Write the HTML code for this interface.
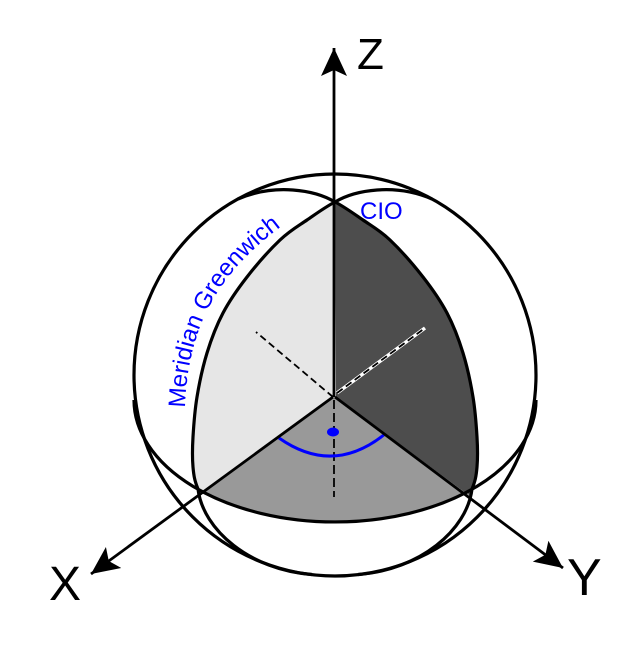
<!DOCTYPE html>
<html><head><meta charset="utf-8"><style>
html,body{margin:0;padding:0;background:#fff;}
svg{display:block;}
</style></head><body>
<svg width="635" height="654" viewBox="0 0 635 654" xmlns="http://www.w3.org/2000/svg">
<defs>
<marker id="ah" viewBox="0 0 30 30" refX="28" refY="15" markerWidth="30" markerHeight="30" markerUnits="userSpaceOnUse" orient="auto">
<path d="M28,15 L0,2 L6,15 L0,28 Z" fill="#000"/>
</marker>
<path id="tp" d="M185,408 C186,370 194,335 210,305 C230,268 261,238 311,206" fill="none"/>
</defs>
<!-- shaded regions -->
<path d="M335,202 C325.7,206.7 316.2,213.7 307,220 C297.8,226.3 290,230.5 280,240 C270,249.5 256.5,264.8 247,277 C237.5,289.2 229.7,300.3 223,313 C216.3,325.7 211.3,339 207,353 C202.7,367 199.3,383 197,397 C194.7,411 193.7,425.3 193,437 C192.3,448.7 192.2,457.7 193,467 C193.8,476.3 195,482 199,494 L334,397 Z" fill="#e6e6e6"/>
<path d="M335,202 C344.3,206.7 353.8,213.7 363,220 C372.2,226.3 380,230.5 390,240 C400,249.5 413.5,264.8 423,277 C432.5,289.2 440.3,300.3 447,313 C453.7,325.7 458.7,339 463,353 C467.3,367 470.7,383 473,397 C475.3,411 476.3,425.3 477,437 C477.7,448.7 477.8,457.7 477,467 C476.2,476.3 475,484 471,497 L336,397 Z" fill="#4d4d4d"/>
<path d="M334,397 L199,494 L203,492 A201,122 0 0 0 467,492 L471,497 Z" fill="#999"/>
<!-- outline -->
<circle cx="335" cy="375" r="201" fill="none" stroke="#000" stroke-width="3.2"/>
<!-- equator front -->
<path d="M134,400 A201,122 0 0 0 536,400" fill="none" stroke="#000" stroke-width="3.2"/>
<!-- left meridian -->
<path d="M432,199 C395,183 355,190 335,202 C325.7,206.7 316.2,213.7 307,220 C297.8,226.3 290,230.5 280,240 C270,249.5 256.5,264.8 247,277 C237.5,289.2 229.7,300.3 223,313 C216.3,325.7 211.3,339 207,353 C202.7,367 199.3,383 197,397 C194.7,411 193.7,425.3 193,437 C192.3,448.7 192.2,457.7 193,467 C193.8,476.3 194.7,480.8 198,489 C203,530 250,570 312,574.5" fill="none" stroke="#000" stroke-width="3.2"/>
<!-- right meridian -->
<path d="M238,199 C275,183 315,190 335,202 C344.3,206.7 353.8,213.7 363,220 C372.2,226.3 380,230.5 390,240 C400,249.5 413.5,264.8 423,277 C432.5,289.2 440.3,300.3 447,313 C453.7,325.7 458.7,339 463,353 C467.3,367 470.7,383 473,397 C475.3,411 476.3,425.3 477,437 C477.7,448.7 477.8,457.7 477,467 C476.2,476.3 475.3,480.8 472,489 C467,530 420,570 358,574.5" fill="none" stroke="#000" stroke-width="3.2"/>
<!-- dashed -->
<line x1="333" y1="397" x2="256" y2="332" stroke="#000" stroke-width="1.8" stroke-dasharray="7,4"/>
<line x1="337" y1="393" x2="425" y2="328" stroke="#fff" stroke-width="3.5"/>
<line x1="337" y1="393" x2="425" y2="328" stroke="#000" stroke-width="1.8" stroke-dasharray="7,4"/>
<line x1="334" y1="400" x2="334" y2="497" stroke="#000" stroke-width="1.8" stroke-dasharray="9,4"/>
<!-- blue arc and dot -->
<path d="M279,438 Q333,476 385,434" fill="none" stroke="#00f" stroke-width="3"/>
<ellipse cx="333" cy="432" rx="6" ry="4.5" fill="#00f"/>
<!-- axes -->
<line x1="334" y1="397" x2="334" y2="48" stroke="#000" stroke-width="2.8" marker-end="url(#ah)"/>
<line x1="333" y1="397" x2="91" y2="574" stroke="#000" stroke-width="2.8" marker-end="url(#ah)"/>
<line x1="335" y1="397" x2="563" y2="568" stroke="#000" stroke-width="2.8" marker-end="url(#ah)"/>
<!-- labels -->
<text x="357" y="69" font-family="Liberation Sans, sans-serif" font-size="44">Z</text>
<text x="49" y="600" font-family="Liberation Sans, sans-serif" font-size="48">X</text>
<text x="567" y="595" font-family="Liberation Sans, sans-serif" font-size="52">Y</text>
<text x="360" y="219" font-family="Liberation Sans, sans-serif" font-size="24" fill="#00f">CIO</text>
<text font-family="Liberation Sans, sans-serif" font-size="24" fill="#00f"><textPath href="#tp">Meridian Greenwich</textPath></text>
</svg>
</body></html>
